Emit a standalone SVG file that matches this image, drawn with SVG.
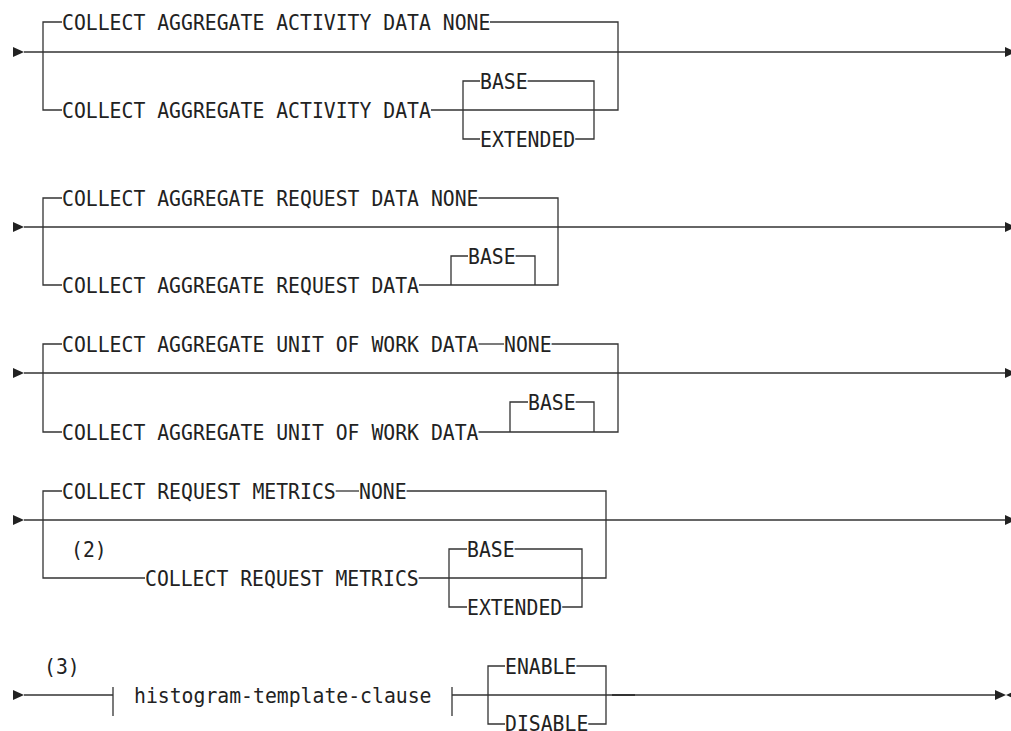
<svg xmlns="http://www.w3.org/2000/svg" width="1011" height="731" viewBox="0 0 1011 731">
<style>
.ln{stroke:#333;stroke-width:1.3;fill:none}
.ar{fill:#222}
.t{font-family:"DejaVu Sans Mono","Liberation Mono",monospace;font-size:20.5px;fill:#222}
</style>
<rect width="1011" height="731" fill="#fff"/>
<g id="connectors">
<path class="ln" d="M24,52 H1005"/>
<path class="ln" d="M62,22 H43 V110 H62"/>
<path class="ln" d="M490,22 H618 V110 H431"/>
<path class="ln" d="M480,81 H463 V139 H480"/>
<path class="ln" d="M527.6,81 H594 V139 H575.2"/>
<path class="ln" d="M24,227 H1005"/>
<path class="ln" d="M62,198 H43 V285 H62"/>
<path class="ln" d="M478.5,198 H558 V285 H419"/>
<path class="ln" d="M468,256 H451 V285"/>
<path class="ln" d="M515.6,256 H535 V285"/>
<path class="ln" d="M24,373 H1005"/>
<path class="ln" d="M62,344 H43 V432 H62"/>
<path class="ln" d="M478.5,344 H504"/>
<path class="ln" d="M551.6,344 H618 V432 H478.5"/>
<path class="ln" d="M528,402 H510 V432"/>
<path class="ln" d="M575.6,402 H594 V432"/>
<path class="ln" d="M24,520 H1005"/>
<path class="ln" d="M62,491 H43 V578 H145"/>
<path class="ln" d="M335.7,491 H359"/>
<path class="ln" d="M406.6,491 H606 V578 H418.7"/>
<path class="ln" d="M467,549 H449 V607 H467"/>
<path class="ln" d="M514.6,549 H582 V607 H562.2"/>
<path class="ln" d="M24,695 H113"/>
<path class="ln" d="M113,687 V716"/>
<path class="ln" d="M452,687 V716"/>
<path class="ln" d="M452,695 H995"/>
<path class="ln" d="M505,666 H488 V724 H505"/>
<path class="ln" d="M576.4,666 H606 V724 H588.3"/>
<path d="M612,695 H635" stroke="#333" stroke-width="2"/>
<g id="arrows">
<polygon class="ar" points="13,47 24,52 13,57"/>
<polygon class="ar" points="1005,47 1016,52 1005,57"/>
<polygon class="ar" points="13,222 24,227 13,232"/>
<polygon class="ar" points="1005,222 1016,227 1005,232"/>
<polygon class="ar" points="13,368 24,373 13,378"/>
<polygon class="ar" points="1005,368 1016,373 1005,378"/>
<polygon class="ar" points="13,515 24,520 13,525"/>
<polygon class="ar" points="1005,515 1016,520 1005,525"/>
<polygon class="ar" points="13,690 24,695 13,700"/>
<polygon class="ar" points="995,690 1006,695 995,700"/>
<polygon class="ar" points="1017,690 1006,695 1017,700"/>
</g>
</g>
<g id="r1-none"><text class="t" x="62" y="29.5" textLength="428.4" lengthAdjust="spacingAndGlyphs">COLLECT AGGREGATE ACTIVITY DATA NONE</text></g>
<g id="r1-data"><text class="t" x="62" y="117.5" textLength="368.9" lengthAdjust="spacingAndGlyphs">COLLECT AGGREGATE ACTIVITY DATA</text></g>
<g id="r1-base"><text class="t" x="480" y="88.5" textLength="47.6" lengthAdjust="spacingAndGlyphs">BASE</text></g>
<g id="r1-ext"><text class="t" x="480" y="146.5" textLength="95.2" lengthAdjust="spacingAndGlyphs">EXTENDED</text></g>
<g id="r2-none"><text class="t" x="62" y="205.5" textLength="416.5" lengthAdjust="spacingAndGlyphs">COLLECT AGGREGATE REQUEST DATA NONE</text></g>
<g id="r2-data"><text class="t" x="62" y="292.5" textLength="357" lengthAdjust="spacingAndGlyphs">COLLECT AGGREGATE REQUEST DATA</text></g>
<g id="r2-base"><text class="t" x="468" y="263.5" textLength="47.6" lengthAdjust="spacingAndGlyphs">BASE</text></g>
<g id="r3-data1"><text class="t" x="62" y="351.5" textLength="416.5" lengthAdjust="spacingAndGlyphs">COLLECT AGGREGATE UNIT OF WORK DATA</text></g>
<g id="r3-none"><text class="t" x="504" y="351.5" textLength="47.6" lengthAdjust="spacingAndGlyphs">NONE</text></g>
<g id="r3-data2"><text class="t" x="62" y="439.5" textLength="416.5" lengthAdjust="spacingAndGlyphs">COLLECT AGGREGATE UNIT OF WORK DATA</text></g>
<g id="r3-base"><text class="t" x="528" y="409.5" textLength="47.6" lengthAdjust="spacingAndGlyphs">BASE</text></g>
<g id="r4-metrics1"><text class="t" x="62" y="498.5" textLength="273.7" lengthAdjust="spacingAndGlyphs">COLLECT REQUEST METRICS</text></g>
<g id="r4-none"><text class="t" x="359" y="498.5" textLength="47.6" lengthAdjust="spacingAndGlyphs">NONE</text></g>
<g id="r4-note"><text class="t" x="71" y="556.5" textLength="35.7" lengthAdjust="spacingAndGlyphs">(2)</text></g>
<g id="r4-metrics2"><text class="t" x="145" y="585.5" textLength="273.7" lengthAdjust="spacingAndGlyphs">COLLECT REQUEST METRICS</text></g>
<g id="r4-base"><text class="t" x="467" y="556.5" textLength="47.6" lengthAdjust="spacingAndGlyphs">BASE</text></g>
<g id="r4-ext"><text class="t" x="467" y="614.5" textLength="95.2" lengthAdjust="spacingAndGlyphs">EXTENDED</text></g>
<g id="r5-note"><text class="t" x="44" y="673.5" textLength="35.7" lengthAdjust="spacingAndGlyphs">(3)</text></g>
<g id="r5-hist"><text class="t" x="134" y="702.5" textLength="297.5" lengthAdjust="spacingAndGlyphs">histogram-template-clause</text></g>
<g id="r5-enable"><text class="t" x="505" y="673.5" textLength="71.4" lengthAdjust="spacingAndGlyphs">ENABLE</text></g>
<g id="r5-disable"><text class="t" x="505" y="731" textLength="83.3" lengthAdjust="spacingAndGlyphs">DISABLE</text></g>
</svg>
